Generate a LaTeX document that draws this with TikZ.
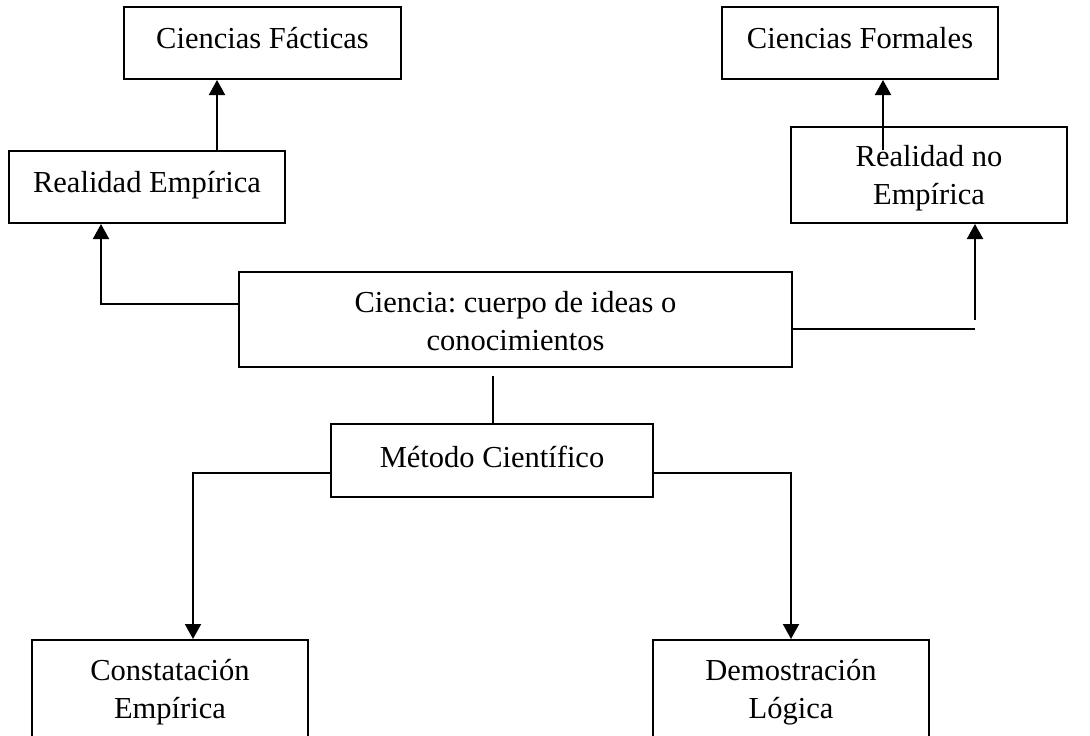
\documentclass[tikz,border=0pt]{standalone}
\usepackage{fontspec}
\setmainfont{Liberation Serif}
\usetikzlibrary{arrows.meta}
\frenchspacing
\begin{document}
\begin{tikzpicture}[x=1pt,y=-1pt,
  box/.style={draw, line width=2pt, inner sep=0pt},
  txt/.style={anchor=base, inner sep=0pt, align=center,
    font=\fontsize{30.5}{38}\selectfont\frenchspacing},
  arr/.style={line width=2pt, -{Triangle[width=16pt,length=15pt]}},
  ln/.style={line width=2pt}]
\useasboundingbox (0,0) rectangle (1090,736);
\clip (0,0) rectangle (1090,736);
% boxes
\node[box, minimum width=277pt, minimum height=72pt] (cf) at (262.5,43) {};
\node[box, minimum width=276pt, minimum height=72pt] (re) at (147,187) {};
\node[box, minimum width=276pt, minimum height=72pt] (cfo) at (860,43) {};
\node[box, minimum width=276pt, minimum height=96pt] (rne) at (929,175) {};
\node[box, minimum width=553pt, minimum height=95pt] (cie) at (515.5,319.5) {};
\node[box, minimum width=322pt, minimum height=73pt] (met) at (492,460.5) {};
\node[box, minimum width=276pt, minimum height=130pt] (con) at (170,705) {};
\node[box, minimum width=276pt, minimum height=130pt] (dem) at (791,705) {};
% texts (base anchor = baseline of the last line)
\node[txt] (tcf) at (262.5,48) {Ciencias Fácticas};
\node[txt] (tre) at (147,192) {Realidad Empírica};
\node[txt] (tcfo) at (860,48) {Ciencias Formales};
\node[txt] (trne) at (929,204) {Realidad no\\Empírica};
\node[txt] (tcie) at (515.5,350) {Ciencia: cuerpo de ideas o\\conocimientos};
\node[txt] (tmet) at (492,467) {Método Científico};
\node[txt] (tcon) at (170,718) {Constatación\\Empírica};
\node[txt] (tdem) at (791,718) {Demostración\\Lógica};
% helper coordinates
\coordinate (x1) at (217,0);
\coordinate (a1) at (101,304);
\coordinate (b1) at (975,329);
\coordinate (b2) at (975,320);
\coordinate (c1) at (883,150);
\coordinate (d1) at (493,376);
\coordinate (e1) at (193,473);
\coordinate (f1) at (791,473);
% connectors
\draw[arr] (re.north -| x1) -- (cf.south -| x1);
\draw[arr] (cie.west |- a1) -- (a1) -- (re.south -| a1);
\draw[ln] (cie.east |- b1) -- (b1);
\draw[arr] (b2) -- (rne.south -| b2);
\draw[arr] (c1) -- (cfo.south -| c1);
\draw[ln] (d1) -- (met.north -| d1);
\draw[arr] (met.west |- e1) -- (e1) -- (con.north -| e1);
\draw[arr] (met.east |- f1) -- (f1) -- (dem.north -| f1);
\end{tikzpicture}
\end{document}
